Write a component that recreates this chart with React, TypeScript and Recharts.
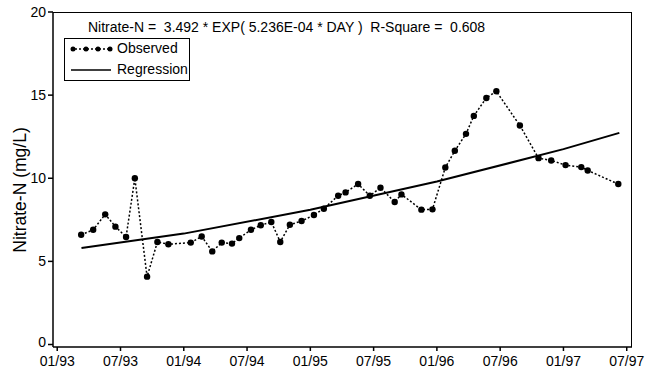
import React from 'react';
import { LineChart, Line, XAxis, YAxis } from 'recharts';

// months since 01/93 for each sample
const obsMonths = [
  2.27, 3.41, 4.55, 5.52, 6.53, 7.36, 8.52, 9.5, 10.54,
  12.66, 13.7, 14.7, 15.6, 16.57, 17.26, 18.37, 19.3, 20.3, 21.15, 22.06, 23.17,
  24.34, 25.28, 26.64, 27.34, 28.53, 29.64, 30.65, 32.0, 32.64, 34.53, 35.58, 36.8,
  37.7, 38.76, 39.5, 40.69, 41.64, 43.87, 45.64, 46.84, 48.2, 49.69, 50.3, 53.2,
];
const obsValues = [
  6.6, 6.9, 7.83, 7.09, 6.47, 10.0, 4.08, 6.17, 6.03,
  6.13, 6.5, 5.6, 6.13, 6.07, 6.4, 6.9, 7.17, 7.37, 6.17, 7.2, 7.43,
  7.79, 8.17, 8.95, 9.15, 9.65, 8.95, 9.43, 8.57, 9.03, 8.11, 8.13, 10.65,
  11.65, 12.67, 13.75, 14.83, 15.23, 13.17, 11.21, 11.07, 10.79, 10.67, 10.47, 9.65,
];

const regMonths = [2.3, 12, 24, 36, 48, 53.3];
const regValues = [5.8, 6.67, 8.1, 9.8, 11.75, 12.73];

const tickMonths = [0, 6, 12, 18, 24, 30, 36, 42, 48, 54];
const tickLabels = ['01/93', '07/93', '01/94', '07/94', '01/95', '07/95', '01/96', '07/96', '01/97', '07/97'];
const yTicks = [0, 5, 10, 15, 20];

const observed = obsMonths.map((m, i) => ({ month: m, value: obsValues[i] }));
const regression = regMonths.map((m, i) => ({ month: m, value: regValues[i] }));

const FONT = '"Liberation Sans", Arial, sans-serif';

const YTick = (props: any) => {
  const { x, y, payload } = props;
  const lift = payload.value === 0 ? -3 : 0;
  return (
    <text x={x} y={y + lift} dy={5} textAnchor="end" fill="#000" fontSize={14} fontFamily={FONT}>
      {payload.value}
    </text>
  );
};

const XTick = (props: any) => {
  const { x, y, payload } = props;
  return (
    <text x={x} y={y} dy={13} textAnchor="middle" fill="#000" fontSize={14} fontFamily={FONT}>
      {tickLabels[tickMonths.indexOf(payload.value)] ?? ''}
    </text>
  );
};

export default function App() {
  return (
    <div style={{ position: 'absolute', left: 0, top: 0, width: 646, height: 369, background: '#fff', fontFamily: FONT }}>
      <LineChart width={646} height={369} margin={{ top: 12, right: 14, bottom: 0, left: 0 }}>
        <XAxis
          dataKey="month"
          type="number"
          domain={[-0.4, 54.5]}
          ticks={tickMonths}
          height={22}
          tickSize={4}
          tick={<XTick />}
          stroke="#000"
          strokeWidth={1.5}
          allowDataOverflow
        />
        <YAxis
          type="number"
          domain={[-0.15, 20]}
          ticks={yTicks}
          width={53}
          tickSize={5}
          tick={<YTick />}
          stroke="#000"
          strokeWidth={1.5}
          allowDataOverflow
        />
        <Line
          data={regression}
          dataKey="value"
          type="linear"
          stroke="#000"
          strokeWidth={2}
          dot={false}
          isAnimationActive={false}
        />
        <Line
          data={observed}
          dataKey="value"
          type="linear"
          stroke="#000"
          strokeWidth={1.5}
          strokeDasharray="2 2"
          dot={{ r: 3.2, fill: '#000', stroke: '#000', strokeWidth: 0 }}
          isAnimationActive={false}
        />
      </LineChart>

      {/* plot frame (top and right edges) */}
      <div style={{ position: 'absolute', left: 53, top: 12, width: 579, height: 335, borderTop: '1.5px solid #000', borderRight: '1.5px solid #000', boxSizing: 'border-box', pointerEvents: 'none' }} />

      <div style={{ position: 'absolute', left: 88, top: 19, fontSize: 14, whiteSpace: 'pre', color: '#000' }}>
        {'Nitrate-N =  3.492 * EXP( 5.236E-04 * DAY )  R-Square =  0.608'}
      </div>

      <div style={{ position: 'absolute', left: 64, top: 38, width: 126, height: 43, border: '1px solid #000', boxSizing: 'border-box', background: '#fff', fontSize: 14 }}>
        <svg width={50} height={40} style={{ position: 'absolute', left: 0, top: 0 }}>
          <line x1={6} y1={10} x2={46} y2={10} stroke="#000" strokeWidth={1.5} strokeDasharray="2 2" />
          {[8, 21, 33, 45].map((cx) => (
            <circle key={cx} cx={cx} cy={10} r={2.5} fill="#000" />
          ))}
          <line x1={6} y1={31} x2={46} y2={31} stroke="#000" strokeWidth={1.5} />
        </svg>
        <div style={{ position: 'absolute', left: 52, top: 1 }}>Observed</div>
        <div style={{ position: 'absolute', left: 52, top: 22 }}>Regression</div>
      </div>

      <div
        style={{
          position: 'absolute',
          left: 20,
          top: 190,
          transform: 'translate(-50%, -50%) rotate(-90deg)',
          fontSize: 17.5,
          whiteSpace: 'nowrap',
          color: '#000',
        }}
      >
        Nitrate-N (mg/L)
      </div>
    </div>
  );
}
